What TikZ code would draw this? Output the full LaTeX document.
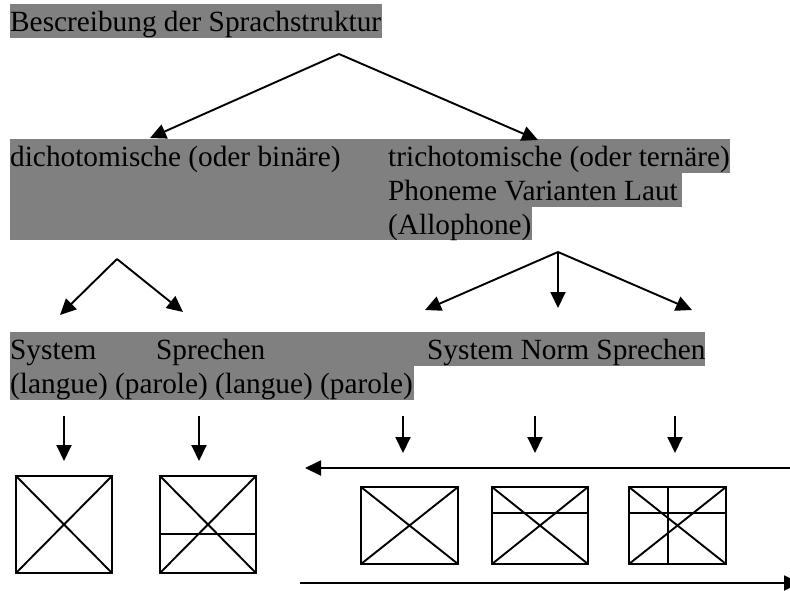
\documentclass[tikz,border=0pt]{standalone}
\usepackage{fontspec}
\setmainfont{Liberation Serif}
\usetikzlibrary{arrows.meta}
\definecolor{hl}{RGB}{128,128,128}
\begin{document}
\begin{tikzpicture}[x=1pt,y=-1pt,
  txt/.style={anchor=base west, inner sep=0pt, font=\fontsize{29.3}{33.7}\selectfont},
  arr/.style={line width=1.9pt, -{Triangle[length=16pt,width=15pt]}},
  boxline/.style={line width=1.9pt}]
\useasboundingbox (0,0) rectangle (790,590);
\clip (0,0) rectangle (790,590);
% highlights
\fill[hl] (10,4) rectangle (382,38);
\fill[hl] (10,139) rectangle (730,173);
\fill[hl] (10,173) rectangle (682,207);
\fill[hl] (10,207) rectangle (532,240);
\fill[hl] (10,332) rectangle (705,366);
\fill[hl] (10,366) rectangle (414,400);
% texts
\node[txt] (title) at (10,31) {Bescreibung der Sprachstruktur};
\node[txt] (dich) at (10,166) {dichotomische (oder binäre)};
\node[txt] (trich) at (388,166) {trichotomische (oder ternäre)};
\node[txt] (phon) at (388,200) {Phoneme Varianten Laut};
\node[txt] (allo) at (388,234) {(Allophone)};
\node[txt] (sysA) at (10,359) {System};
\node[txt] (sprA) at (156,359) {Sprechen};
\node[txt] (lang) at (10,393) {(langue) (parole) (langue) (parole)};
\node[txt] (sysnorm) at (427,359) {System Norm Sprechen};
% arrow coordinates
\coordinate (a0) at (339,54);
\coordinate (a0l) at (150,138);
\coordinate (a0r) at (538,140);
\coordinate (a1) at (117,259);
\coordinate (a1l) at (60,315);
\coordinate (a1r) at (183,312);
\coordinate (a2) at (558,252);
\coordinate (a2l) at (425,310);
\coordinate (a2c) at (558,308);
\coordinate (a2r) at (692,310);
\draw[arr] (a0) -- (a0l);
\draw[arr] (a0) -- (a0r);
\draw[arr] (a1) -- (a1l);
\draw[arr] (a1) -- (a1r);
\draw[arr] (a2) -- (a2l);
\draw[arr] (a2) -- (a2c);
\draw[arr] (a2) -- (a2r);
% down arrows
\foreach \n/\x/\y in {d1/64/461, d2/199/461, d3/403/453, d4/535/453, d5/675/453}{
  \coordinate (\n s) at (\x,416);
  \coordinate (\n e) at (\x,\y);
  \draw[arr] (\n s) -- (\n e);
}
% horizontal arrows
\coordinate (h1s) at (792,468);
\coordinate (h1e) at (305,468);
\draw[arr] (h1s) -- (h1e);
\coordinate (h2s) at (300,583);
\coordinate (h2e) at (800,583);
\draw[arr] (h2s) -- (h2e);
% boxes
\coordinate (b1a) at (16,476); \coordinate (b1b) at (112,573);
\draw[boxline] (b1a) rectangle (b1b) (b1a) -- (b1b) (b1a |- b1b) -- (b1b |- b1a);
\coordinate (b2a) at (160,476); \coordinate (b2b) at (256,573);
\draw[boxline] (b2a) rectangle (b2b) (b2a) -- (b2b) (b2a |- b2b) -- (b2b |- b2a);
\draw[boxline] (160,534) -- (256,534);
\coordinate (b3a) at (361,487); \coordinate (b3b) at (458,564);
\draw[boxline] (b3a) rectangle (b3b) (b3a) -- (b3b) (b3a |- b3b) -- (b3b |- b3a);
\coordinate (b4a) at (492,487); \coordinate (b4b) at (588,564);
\draw[boxline] (b4a) rectangle (b4b) (b4a) -- (b4b) (b4a |- b4b) -- (b4b |- b4a);
\draw[boxline] (492,513) -- (588,513);
\coordinate (b5a) at (629,487); \coordinate (b5b) at (726,564);
\draw[boxline] (b5a) rectangle (b5b) (b5a) -- (b5b) (b5a |- b5b) -- (b5b |- b5a);
\draw[boxline] (629,513) -- (726,513);
\draw[boxline] (668,487) -- (668,564);
\end{tikzpicture}
\end{document}
